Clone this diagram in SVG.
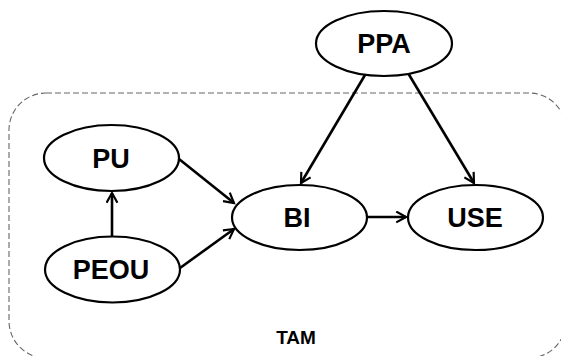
<svg xmlns="http://www.w3.org/2000/svg" width="561" height="356" viewBox="0 0 561 356">
<defs>
<style>
.node ellipse{fill:#fff;stroke:#000;stroke-width:2.2}
.node text{font-family:"Liberation Sans",Arial,sans-serif;font-weight:bold;font-size:27px;text-anchor:middle;fill:#000}
.edge{stroke:#000;stroke-width:2.6;fill:none;marker-end:url(#arr)}
.frame{fill:none;stroke:#666;stroke-width:1.1;stroke-dasharray:6 3}
</style>
<marker id="arr" viewBox="0 0 12 12" refX="10" refY="6" markerWidth="5" markerHeight="5" orient="auto" markerUnits="strokeWidth">
<path d="M1,1 L10,6 L1,11" fill="none" stroke="#000" stroke-width="2"/>
</marker>
</defs>
<rect class="frame" x="9" y="93" width="557" height="265" rx="37" ry="37"/>
<text x="296" y="344" font-family="'Liberation Sans',Arial,sans-serif" font-weight="bold" font-size="19" text-anchor="middle">TAM</text>
<g id="connectors">
<line class="edge" x1="179" y1="159" x2="234" y2="203"/>
<line class="edge" x1="180" y1="268" x2="234" y2="229"/>
<line class="edge" x1="112" y1="237" x2="112" y2="193"/>
<line class="edge" x1="365" y1="75" x2="301" y2="183"/>
<line class="edge" x1="408" y1="73" x2="474" y2="183"/>
<line class="edge" x1="367" y1="217" x2="406" y2="217"/>
</g>
<g id="PPA" class="node"><ellipse cx="384" cy="43.5" rx="68" ry="32.5"/><text x="384" y="53">PPA</text></g>
<g id="PU" class="node"><ellipse cx="111.5" cy="158" rx="67.5" ry="33"/><text x="111" y="168">PU</text></g>
<g id="BI" class="node"><ellipse cx="299.5" cy="217.5" rx="67.5" ry="32.5"/><text x="297" y="227">BI</text></g>
<g id="USE" class="node"><ellipse cx="475.5" cy="217.5" rx="67.5" ry="32.5"/><text x="475" y="227">USE</text></g>
<g id="PEOU" class="node"><ellipse cx="112.5" cy="269.5" rx="67.5" ry="33"/><text x="111" y="279">PEOU</text></g>
</svg>
